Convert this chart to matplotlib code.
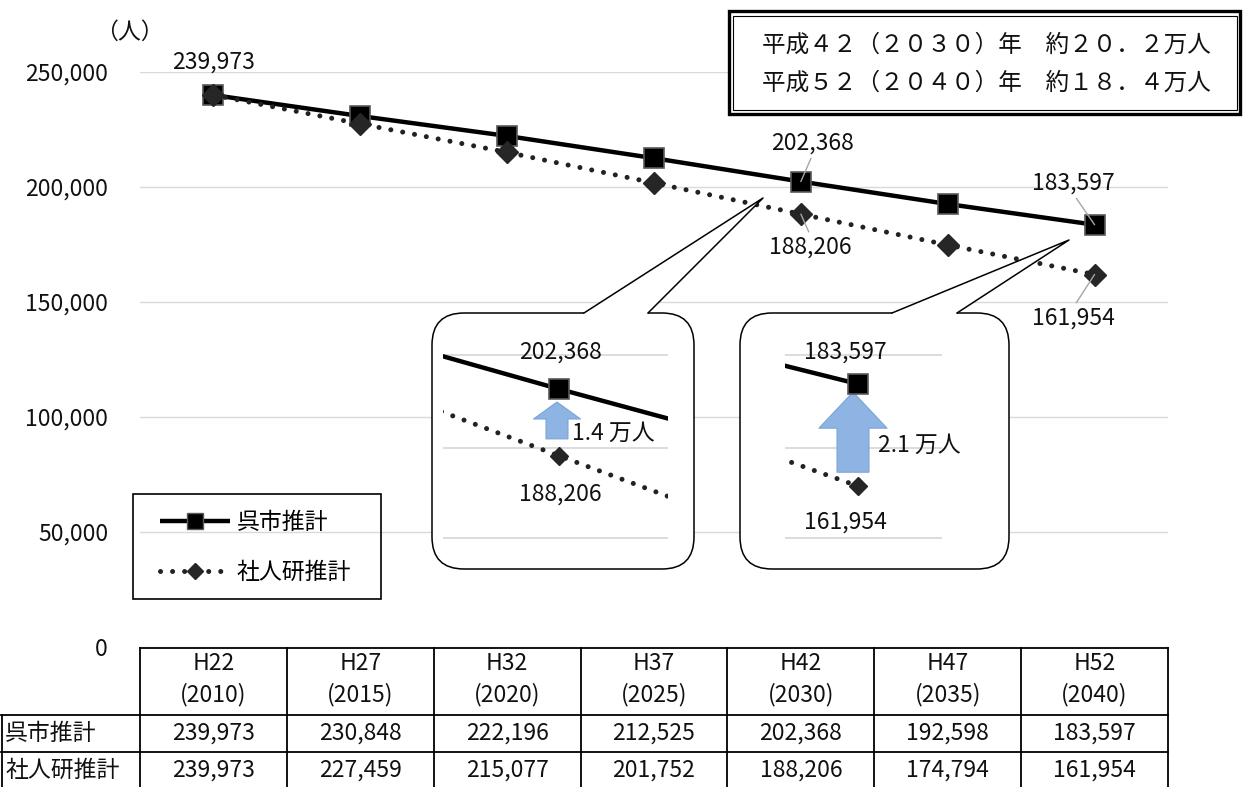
import numpy as np
import matplotlib
matplotlib.use('Agg')
import matplotlib.pyplot as plt
from matplotlib.patches import FancyBboxPatch, Polygon, Rectangle
from matplotlib.lines import Line2D
from matplotlib.transforms import IdentityTransform
from matplotlib.ticker import FuncFormatter

plt.rcParams['font.family'] = ['Noto Sans CJK JP', 'DejaVu Sans']

W, H = 1243, 787
FS = 16.5
GRID = '#d9d9d9'
TXT = '#111111'

# data
periods = ['H22', 'H27', 'H32', 'H37', 'H42', 'H47', 'H52']
years = ['(2010)', '(2015)', '(2020)', '(2025)', '(2030)', '(2035)', '(2040)']
kure = [239973, 230848, 222196, 212525, 202368, 192598, 183597]
ipss = [239973, 227459, 215077, 201752, 188206, 174794, 161954]
series_names = ['呉市推計', '社人研推計']
summary = ['平成４２（２０３０）年　約２０．２万人',
           '平成５２（２０４０）年　約１８．４万人']
yticks = [0, 50000, 100000, 150000, 200000, 250000]

x = np.arange(len(periods))
ID = IdentityTransform()


def rect(l, t, r, b):
    """pixel box (top-down) -> figure fraction rect"""
    return [l / W, 1 - b / H, (r - l) / W, (b - t) / H]


def ptext(xp, yp, s, **kw):
    kw.setdefault('fontsize', FS)
    kw.setdefault('color', TXT)
    return fig.text(xp, H - yp, s, transform=ID, **kw)


def pline(xs, ys, **kw):
    fig.add_artist(Line2D(xs, [H - v for v in ys], transform=ID, **kw))


solid = dict(color='black', lw=3.2, marker='s', ms=15, mfc='black',
             mec='#595959', mew=1.2, solid_capstyle='butt')
dotted = dict(color='#222222', lw=3.6, ls=(0, (0.01, 2.4)), dash_capstyle='round',
              marker='D', ms=11.5, mfc='#262626', mec='#262626')

fig = plt.figure(figsize=(W / 100, H / 100), dpi=100)

# main chart
ax = fig.add_axes(rect(140, 72, 1168, 647))
ax.plot(x, kure, clip_on=False, zorder=3, **solid)
ax.plot(x, ipss, clip_on=False, zorder=4, **dotted)
ax.set_xlim(-0.5, len(periods) - 0.5)
ax.set_ylim(0, 250000)
ax.set_yticks(yticks)
ax.yaxis.set_major_formatter(FuncFormatter(lambda v, p: f'{int(v):,}'))
ax.tick_params(axis='y', length=0, pad=23, labelsize=FS, labelcolor=TXT)
ax.set_xticks([])
for s in ax.spines.values():
    s.set_visible(False)
ax.grid(axis='y', color=GRID, lw=1)
ax.set_axisbelow(True)

ptext(129, 32, '（人）', ha='center', va='center')

# data labels
lab = dict(fontsize=FS, color=TXT, ha='center', va='center',
           textcoords='offset points', zorder=6)
leader = dict(arrowstyle='-', color='#a6a6a6', lw=1, shrinkA=1, shrinkB=0)
ax.annotate(f'{kure[0]:,}', (0, kure[0]), xytext=(0, 24), **lab)
ax.annotate(f'{kure[4]:,}', (4, kure[4]), xytext=(8.6, 28),
            arrowprops=dict(leader, relpos=(0.5, 0)), **lab)
ax.annotate(f'{ipss[4]:,}', (4, ipss[4]), xytext=(7, -24),
            arrowprops=dict(leader, relpos=(0.5, 1)), **lab)
ax.annotate(f'{kure[6]:,}', (6, kure[6]), xytext=(-15, 30),
            arrowprops=dict(leader, relpos=(0.5, 0)), **lab)
ax.annotate(f'{ipss[6]:,}', (6, ipss[6]), xytext=(-15, -31.5),
            arrowprops=dict(leader, relpos=(0.5, 1)), **lab)


# callout bubbles
def callout(l, t, r, b, base1, base2, tip, radius=32):
    box = FancyBboxPatch((l, H - b), r - l, b - t,
                         boxstyle=f'round,pad=0,rounding_size={radius}',
                         transform=ID, fc='white', ec='black', lw=1.1, zorder=2)
    fig.add_artist(box)
    cover = Polygon([(base1, H - t - 3), (base1, H - t), (tip[0], H - tip[1]),
                     (base2, H - t), (base2, H - t - 3)], closed=True,
                    transform=ID, fc='white', ec='none', zorder=2.1)
    fig.add_artist(cover)
    pline([base1, tip[0], base2], [t, tip[1], t], color='black', lw=1.1, zorder=2.2)


callout(432, 313, 694, 569, 584, 648, (763, 198))
callout(740, 313, 1009, 569, 892, 957, (1069, 240))

PX_PER_STEP = 170
VAL_PER_PX = 212
INSET_GRID = [0.93, 0.51, 0.1]


def inset(box, i, anchor, lab_dx, lab_up, lab_down, diff_dx, arrow_dx, arrow, shrink):
    l, t, r, b = box
    ai = fig.add_axes(rect(l, t, r, b))
    ai.set_zorder(3)
    ai.set_axis_off()
    for f in INSET_GRID:
        ai.plot([0, 1], [f, f], transform=ai.transAxes, color=GRID, lw=1.3, zorder=1)
    ai.plot(x, kure, markevery=[i], zorder=3, **solid)
    ai.plot(x, ipss, markevery=[i], zorder=4, **dict(dotted, ms=9.5))
    px, py = anchor
    ai.set_xlim(i - (px - l) / PX_PER_STEP, i + (r - px) / PX_PER_STEP)
    top = kure[i] + (py - t) * VAL_PER_PX
    ai.set_ylim(top - (b - t) * VAL_PER_PX, top)
    ai.annotate(f'{kure[i]:,}', (i, kure[i]), xytext=(lab_dx, lab_up), **lab)
    ai.annotate(f'{ipss[i]:,}', (i, ipss[i]), xytext=(lab_dx, -lab_down), **lab)
    xa = i + arrow_dx / PX_PER_STEP
    ai.annotate('', xy=(xa, kure[i]), xytext=(xa, ipss[i]), zorder=2,
                arrowprops=dict(arrowstyle=arrow, mutation_scale=1,
                                shrinkA=shrink[0], shrinkB=shrink[1],
                                fc='#8EB4E3', ec='#7BA3D6', lw=0.8))
    diff = (kure[i] - ipss[i]) // 1000 / 10
    ai.annotate(f'{diff:.1f} 万人', (i, (kure[i] + ipss[i]) / 2), xytext=(diff_dx, -7.6),
                textcoords='offset points', ha='left', va='center',
                fontsize=FS, color=TXT, zorder=6)


inset((443, 340, 668, 560), 4, (559, 389), 0.7, 26.6, 27.4, 9.4, -2,
      'simple,head_length=12.2,head_width=33.8,tail_width=15.8', (12.2, 9.4))
inset((785, 340, 942, 560), 6, (858, 384), -9.4, 23, 26, 14.4, -5,
      'simple,head_length=26,head_width=49,tail_width=23', (10, 5.8))

# summary box (double border)
fig.add_artist(Rectangle((728.5, H - 114), 511, 103, transform=ID,
                         fc='white', ec='black', lw=2.4, zorder=2))
fig.add_artist(Rectangle((733, H - 109.5), 504, 94, transform=ID,
                         fc='none', ec='black', lw=0.8, zorder=2.1))
ptext(762, 45, summary[0], ha='left', va='center', fontsize=17, zorder=3)
ptext(762, 83, summary[1], ha='left', va='center', fontsize=17, zorder=3)

# legend
fig.add_artist(Rectangle((133, H - 599), 248, 105, transform=ID,
                         fc='none', ec='black', lw=1.2, zorder=2))
handles = [Line2D([], [], **dict(solid, ms=11, mew=1)),
           Line2D([], [], **dict(dotted, ms=8.5))]
fig.legend(handles, series_names, loc='center left',
           bbox_to_anchor=(160 / W, 1 - 547.5 / H), frameon=False,
           borderpad=0, borderaxespad=0, handlelength=3.05, handletextpad=0.3,
           labelspacing=1.18, fontsize=FS, numpoints=1)

# data table
cols = [ax.transData.transform((k - 0.5, 0))[0] for k in range(len(periods) + 1)]
rows = [648, 715, 752, 790]
tbl = dict(color='black', lw=1.3, zorder=4, solid_capstyle='projecting')
pline([cols[0], cols[-1]], [rows[0], rows[0]], **tbl)
for yr in rows[1:3]:
    pline([1, cols[-1]], [yr, yr], **tbl)
for xc in cols:
    pline([xc, xc], [rows[0], rows[-1]], **tbl)
pline([1.5, 1.5], [rows[1], rows[-1]], **tbl)

for k in range(len(periods)):
    cx = (cols[k] + cols[k + 1]) / 2
    ptext(cx, 663, periods[k], ha='center', va='center')
    ptext(cx, 695, years[k], ha='center', va='center')
    ptext(cx, 733, f'{kure[k]:,}', ha='center', va='center')
    ptext(cx, 770, f'{ipss[k]:,}', ha='center', va='center')
ptext(5, 733, series_names[0], ha='left', va='center')
ptext(5, 770, series_names[1], ha='left', va='center')

fig.savefig('out.png', dpi=100)
